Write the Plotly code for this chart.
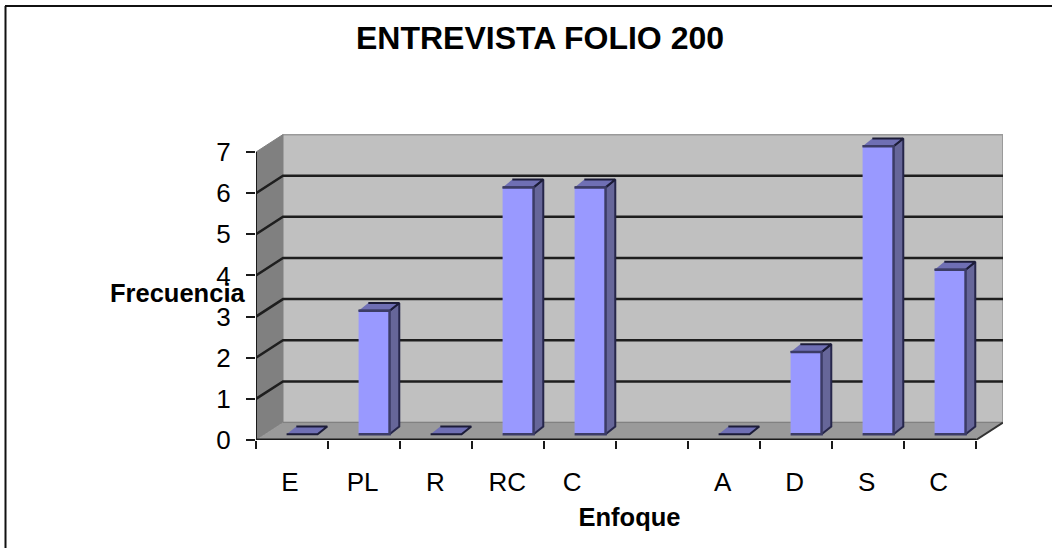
import plotly.graph_objects as go

# Datos
categorias = ["E", "PL", "R", "RC", "C", "", "A", "D", "S", "C"]
pos_etiquetas = [0.47, 1.48, 2.49, 3.49, 4.39, 5.5, 6.48, 7.48, 8.48, 9.48]
frecuencia = [0, 3, 0, 6, 6, None, 0, 2, 7, 4]
marcas_y = [0, 1, 2, 3, 4, 5, 6, 7]

# Falsa perspectiva, en unidades de los ejes
PROF_X = 0.375
PROF_Y = 0.425
BARRA_INI = 0.30
BARRA_ANCHO = 0.43
BARRA_PX = 0.135
BARRA_PY = 0.19
BARRA_FX = 0.125
BARRA_FY = 0.14

fig = go.Figure()


def poligono(xs, ys, relleno, borde=None, grosor=0):
    fig.add_trace(go.Scatter(
        x=xs, y=ys, mode="lines", fill="toself", fillcolor=relleno,
        line=dict(color=borde or relleno, width=grosor),
        hoverinfo="skip", showlegend=False, cliponaxis=False,
    ))


def linea(xs, ys, color, grosor):
    fig.add_trace(go.Scatter(
        x=xs, y=ys, mode="lines", line=dict(color=color, width=grosor),
        hoverinfo="skip", showlegend=False, cliponaxis=False,
    ))


n = len(categorias)

# Paredes y piso
poligono([PROF_X, n + PROF_X, n + PROF_X, PROF_X], [PROF_Y, PROF_Y, 7 + PROF_Y, 7 + PROF_Y],
         "#c0c0c0", "#9a9a9a", 2)
poligono([0, PROF_X, PROF_X, 0], [0, PROF_Y, 7 + PROF_Y, 7], "#808080", "#808080", 1)

for v in marcas_y[1:7]:
    linea([0, PROF_X, n + PROF_X], [v, v + PROF_Y, v + PROF_Y], "#1e1e1e", 2.5)

poligono([0, n, n + PROF_X, PROF_X], [0, 0, PROF_Y, PROF_Y], "#9a9a9a", "#808080", 1)
linea([n, n + PROF_X], [0, PROF_Y], "#333333", 2)

# Barras
for i, v in enumerate(frecuencia):
    if v is None:
        continue
    x0 = i + BARRA_INI + BARRA_FX
    x1 = x0 + BARRA_ANCHO
    y0 = BARRA_FY
    y1 = v + BARRA_FY
    if v > 0:
        poligono([x1, x1 + BARRA_PX, x1 + BARRA_PX, x1],
                 [y0, y0 + BARRA_PY, y1 + BARRA_PY, y1], "#666699", "#26264a", 2)
    poligono([x0, x1, x1 + BARRA_PX, x0 + BARRA_PX],
             [y1, y1, y1 + BARRA_PY, y1 + BARRA_PY], "#6f6fb4", "#1c1c38", 2)
    if v > 0:
        poligono([x0, x1, x1, x0], [y0, y0, y1, y1], "#9999ff", "#3c3c66", 2.5)

# Ejes dibujados a mano para que terminen donde la pared
linea([0, n], [0, 0], "#1a1a1a", 3)
linea([0, 0], [0, 7], "#1a1a1a", 2)

fig.update_layout(
    width=1052,
    height=548,
    paper_bgcolor="white",
    plot_bgcolor="white",
    margin=dict(l=0, r=0, t=0, b=0),
    font=dict(family="Liberation Sans", size=26, color="black"),
    showlegend=False,
    title=dict(
        text="<b>ENTREVISTA FOLIO 200</b>",
        x=540 / 1052, xanchor="center", y=1 - 38 / 548, yanchor="middle",
        font=dict(size=32, color="black"),
    ),
    xaxis=dict(
        automargin=False,
        domain=[256 / 1052, 1003 / 1052],
        range=[0, n + PROF_X],
        tickmode="array",
        tickvals=pos_etiquetas,
        ticktext=categorias,
        ticks="outside", ticklen=0,
        ticklabelstandoff=19,
        minor=dict(tick0=0, dtick=1, ticks="outside", ticklen=8, tickcolor="#1a1a1a", tickwidth=2),
        showgrid=False, zeroline=False, showline=False,
        title=dict(text="<b>Enfoque</b>", font=dict(size=25.5), standoff=11),
    ),
    yaxis=dict(
        automargin=False,
        domain=[108 / 548, 414 / 548],
        range=[0, 7.438],
        tickmode="array",
        tickvals=marcas_y,
        ticks="outside", ticklen=9, tickcolor="#1a1a1a", tickwidth=2,
        ticklabelstandoff=10,
        showgrid=False, zeroline=False, showline=False,
    ),
    annotations=[dict(
        text="<b>Frecuencia</b>", xref="paper", yref="paper",
        x=177.5 / 1052, y=1 - 293 / 548, xanchor="center", yanchor="middle",
        showarrow=False, font=dict(size=25.5),
    )],
    # Solo hay borde arriba y a la izquierda
    shapes=[
        dict(type="line", xref="paper", yref="paper", x0=5 / 1052, x1=1, y0=542 / 548, y1=542 / 548,
             line=dict(color="#111111", width=2)),
        dict(type="line", xref="paper", yref="paper", x0=5.5 / 1052, x1=5.5 / 1052, y0=0, y1=542 / 548,
             line=dict(color="#111111", width=2)),
    ],
)

fig.write_html("out.html", config={"displayModeBar": False},
               post_script="document.body.style.margin='0';")
